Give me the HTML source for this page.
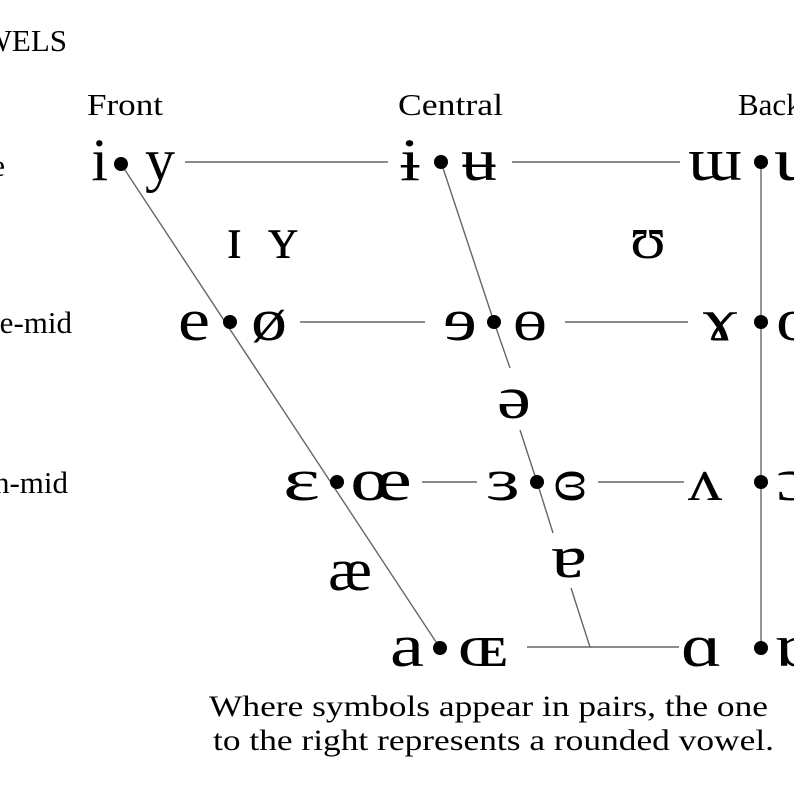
<!DOCTYPE html>
<html><head><meta charset="utf-8"><style>
html,body{margin:0;padding:0;background:#fff;width:794px;height:794px;overflow:hidden}
svg{display:block}
text{font-family:"Liberation Serif","DejaVu Serif",serif;fill:#000}
.s{font-size:60px}
.l{font-size:31px}
</style></head><body>
<svg width="794" height="794" viewBox="0 0 794 794" xmlns="http://www.w3.org/2000/svg">
<g stroke="#666" stroke-width="1.4" fill="none">
<line x1="121" y1="164" x2="440" y2="648"/>
<line x1="761" y1="162" x2="761" y2="648"/>
<line x1="441" y1="162" x2="494" y2="322"/>
<line x1="494" y1="322" x2="510" y2="368"/>
<line x1="520" y1="430" x2="537" y2="482"/>
<line x1="537" y1="482" x2="553" y2="533"/>
<line x1="571" y1="588" x2="590" y2="647"/>
<line x1="185" y1="162" x2="388" y2="162"/>
<line x1="512" y1="162" x2="680" y2="162"/>
<line x1="300" y1="322" x2="425" y2="322"/>
<line x1="565" y1="322" x2="688" y2="322"/>
<line x1="422" y1="482" x2="477" y2="482"/>
<line x1="598" y1="482" x2="684" y2="482"/>
<line x1="527" y1="647" x2="679" y2="647"/>
</g>
<g fill="#000">
<circle cx="121" cy="164" r="7"/><circle cx="441" cy="162" r="7"/><circle cx="761" cy="162" r="7"/>
<circle cx="230" cy="322" r="7"/><circle cx="494" cy="322" r="7"/><circle cx="761" cy="322" r="7"/>
<circle cx="337" cy="482" r="7"/><circle cx="537" cy="482" r="7"/><circle cx="761" cy="482" r="7"/>
<circle cx="440" cy="648" r="7"/><circle cx="761" cy="648" r="7"/>
</g>
<text class="l" x="67" y="51" text-anchor="end">VOWELS</text>
<text class="l" x="87" y="115" textLength="76" lengthAdjust="spacingAndGlyphs">Front</text>
<text class="l" x="398" y="115" textLength="105" lengthAdjust="spacingAndGlyphs">Central</text>
<text class="l" x="738" y="115">Back</text>
<text class="l" x="5" y="176" text-anchor="end">Close</text>
<text class="l" x="72" y="333" text-anchor="end">Close-mid</text>
<text class="l" x="68" y="493" text-anchor="end">Open-mid</text>

<g lengthAdjust="spacingAndGlyphs">
<text class="s" x="108" y="180" text-anchor="end">i</text>
<text class="s" x="145" y="180">y</text>
<text class="s" x="400" y="180" textLength="20" lengthAdjust="spacingAndGlyphs">ɨ</text>
<text class="s" x="461" y="180" textLength="36" lengthAdjust="spacingAndGlyphs">ʉ</text>
<text class="s" x="688" y="180" textLength="54" lengthAdjust="spacingAndGlyphs">ɯ</text>
<text class="s" x="774" y="180" textLength="40" lengthAdjust="spacingAndGlyphs">u</text>
<text class="s" x="226" y="258">ɪ</text>
<text class="s" x="268" y="258">ʏ</text>
<text class="s" x="630" y="258" textLength="36" lengthAdjust="spacingAndGlyphs">ʊ</text>
<text class="s" x="178" y="340" textLength="32" lengthAdjust="spacingAndGlyphs">e</text>
<text class="s" x="251" y="340" textLength="36" lengthAdjust="spacingAndGlyphs">ø</text>
<text class="s" x="443" y="340" textLength="34" lengthAdjust="spacingAndGlyphs">ɘ</text>
<text class="s" x="513" y="340" textLength="34" lengthAdjust="spacingAndGlyphs">ɵ</text>
<text class="s" x="703" y="340" textLength="34" lengthAdjust="spacingAndGlyphs">ɤ</text>
<text class="s" x="776" y="340" textLength="36" lengthAdjust="spacingAndGlyphs">o</text>
<text class="s" x="497" y="418" textLength="34" lengthAdjust="spacingAndGlyphs">ə</text>
<text class="s" x="283" y="500" textLength="37" lengthAdjust="spacingAndGlyphs">ɛ</text>
<text class="s" x="350" y="500" textLength="62" lengthAdjust="spacingAndGlyphs">œ</text>
<text class="s" x="486" y="500" textLength="34" lengthAdjust="spacingAndGlyphs">ɜ</text>
<text class="s" x="553" y="500" textLength="34" lengthAdjust="spacingAndGlyphs">ɞ</text>
<text class="s" x="688" y="500" textLength="34" lengthAdjust="spacingAndGlyphs">ʌ</text>
<text class="s" x="776" y="500" textLength="36" lengthAdjust="spacingAndGlyphs">ɔ</text>
<text class="s" x="328" y="590" textLength="44" lengthAdjust="spacingAndGlyphs">æ</text>
<text class="s" x="551" y="577" textLength="36" lengthAdjust="spacingAndGlyphs">ɐ</text>
<text class="s" x="390" y="666" textLength="34" lengthAdjust="spacingAndGlyphs">a</text>
<text class="s" x="458" y="666" textLength="50" lengthAdjust="spacingAndGlyphs">ɶ</text>
<text class="s" x="681" y="666" textLength="41" lengthAdjust="spacingAndGlyphs">ɑ</text>
<text class="s" x="774" y="666" textLength="40" lengthAdjust="spacingAndGlyphs">ɒ</text>
</g>

<text x="209" y="716" style="font-size:30px" textLength="559" lengthAdjust="spacingAndGlyphs">Where symbols appear in pairs, the one</text>
<text x="213" y="750" style="font-size:30px" textLength="561" lengthAdjust="spacingAndGlyphs">to the right represents a rounded vowel.</text>
</svg>
</body></html>
